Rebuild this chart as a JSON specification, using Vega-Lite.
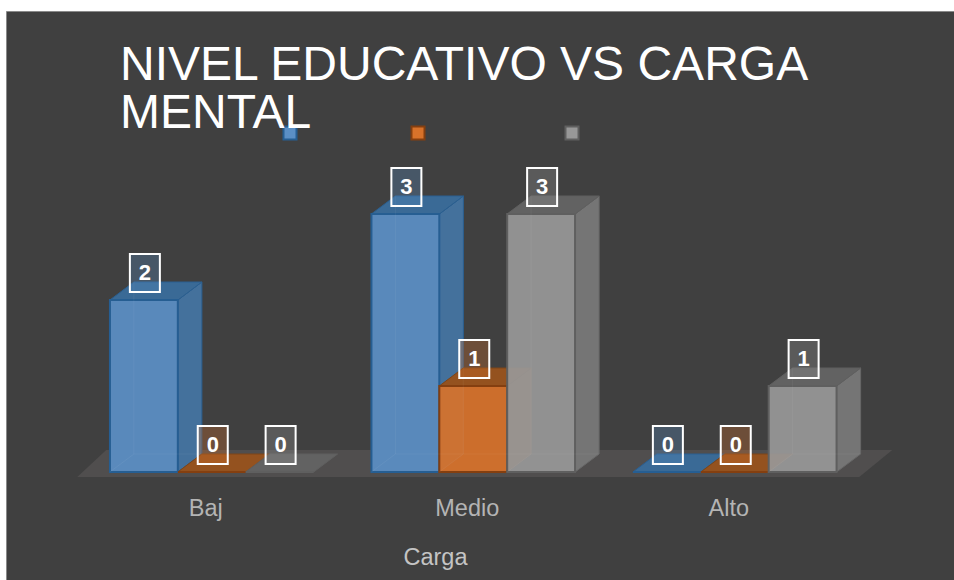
{
  "$schema": "https://vega.github.io/schema/vega-lite/v6.json",
  "width": 948,
  "height": 569,
  "autosize": "none",
  "padding": {"left": 6, "top": 11, "right": 0, "bottom": 0},
  "background": "#ffffff",
  "view": {"fill": "#404040", "stroke": "#8a8a8a", "strokeWidth": 1},
  "title": {
    "text": ["NIVEL EDUCATIVO VS CARGA", "MENTAL"],
    "frame": "group",
    "anchor": "start",
    "align": "left",
    "baseline": "top",
    "dx": 114,
    "offset": -127,
    "font": "Liberation Sans",
    "fontSize": 48,
    "fontWeight": "normal",
    "lineHeight": 48,
    "color": "#ffffff"
  },
  "config": {"font": "Liberation Sans"},
  "data": {
    "values": [
      {"carga": "Baj", "nivel": "Bachiller", "valor": 2},
      {"carga": "Baj", "nivel": "Universitario", "valor": 0},
      {"carga": "Baj", "nivel": "Posgrado", "valor": 0},
      {"carga": "Medio", "nivel": "Bachiller", "valor": 3},
      {"carga": "Medio", "nivel": "Universitario", "valor": 1},
      {"carga": "Medio", "nivel": "Posgrado", "valor": 3},
      {"carga": "Alto", "nivel": "Bachiller", "valor": 0},
      {"carga": "Alto", "nivel": "Universitario", "valor": 0},
      {"carga": "Alto", "nivel": "Posgrado", "valor": 1}
    ]
  },
  "encoding": {
    "x": {
      "field": "carga",
      "type": "nominal",
      "sort": ["Baj", "Medio", "Alto"],
      "scale": {"range": [75, 859.5], "paddingInner": 0.2214, "paddingOuter": 0.1107},
      "axis": {
        "title": "Carga",
        "titleFont": "Liberation Sans",
        "titleFontSize": 23.5,
        "titleFontWeight": "normal",
        "titleColor": "#c4c4c4",
        "titleX": 429,
        "titleY": 49,
        "titleAlign": "center",
        "labelAngle": 0,
        "labelColor": "#b4b4b4",
        "labelFont": "Liberation Sans",
        "labelFontSize": 23.5,
        "labelOffset": -6,
        "labelPadding": 0,
        "domain": false,
        "ticks": false,
        "offset": -84
      }
    },
    "xOffset": {
      "field": "nivel",
      "type": "nominal",
      "scale": {"domain": ["Bachiller", "Universitario", "Posgrado"]}
    },
    "y": {
      "field": "valor",
      "type": "quantitative",
      "scale": {"domain": [0, 3], "range": [461, 203], "nice": false},
      "axis": null
    }
  },
  "layer": [
    {
      "transform": [{"filter": "datum.carga === 'Medio' && datum.nivel === 'Universitario'"}],
      "mark": {
        "type": "point",
        "filled": true,
        "opacity": 1,
        "size": 4,
        "strokeWidth": 0,
        "shape": "M-396,5L386,5L419,-22L-367,-22Z"
      },
      "encoding": {
        "y": {"datum": 0},
        "fill": {"value": "#504e4e"}
      }
    },
    {
      "mark": {"type": "point", "filled": true, "opacity": 1, "size": 4, "strokeWidth": 1},
      "encoding": {
        "shape": {
          "field": "valor",
          "type": "nominal",
          "legend": null,
          "scale": {
            "domain": [0, 1, 2, 3],
            "range": [
              "M34,0L34,0Z",
              "M34,0L58,-18L58,68L34,86Z",
              "M34,0L58,-18L58,154L34,172Z",
              "M34,0L58,-18L58,240L34,258Z"
            ]
          }
        },
        "fill": {
          "field": "nivel",
          "type": "nominal",
          "legend": null,
          "scale": {
            "domain": ["Bachiller", "Universitario", "Posgrado"],
            "range": ["#44719c", "#9a5a2a", "#757575"]
          }
        },
        "stroke": {
          "field": "nivel",
          "type": "nominal",
          "legend": null,
          "scale": {
            "domain": ["Bachiller", "Universitario", "Posgrado"],
            "range": ["#2a5f90", "#7d4518", "#686868"]
          }
        }
      }
    },
    {
      "mark": {
        "type": "point",
        "filled": true,
        "opacity": 1,
        "size": 4,
        "strokeWidth": 1,
        "shape": "M-34,0L-10,-18L58,-18L34,0Z"
      },
      "encoding": {
        "fill": {
          "field": "nivel",
          "type": "nominal",
          "legend": null,
          "scale": {
            "domain": ["Bachiller", "Universitario", "Posgrado"],
            "range": ["#3a6a96", "#94521f", "#626262"]
          }
        },
        "stroke": {
          "field": "nivel",
          "type": "nominal",
          "legend": null,
          "scale": {
            "domain": ["Bachiller", "Universitario", "Posgrado"],
            "range": ["#2a5f90", "#7d4518", "#5f5f5f"]
          }
        }
      }
    },
    {
      "mark": {"type": "bar", "strokeWidth": 2, "fillOpacity": 0.92},
      "encoding": {
        "y2": {"datum": 0},
        "fill": {
          "field": "nivel",
          "type": "nominal",
          "scale": {
            "domain": ["Bachiller", "Universitario", "Posgrado"],
            "range": ["#5b8fc5", "#d8722a", "#989898"]
          },
          "legend": {
            "orient": "none",
            "direction": "horizontal",
            "legendX": 276,
            "legendY": 114,
            "title": null,
            "padding": 0,
            "symbolType": "square",
            "symbolSize": 170,
            "symbolStrokeWidth": 2,
            "symbolOpacity": 1,
            "labelColor": "#404040",
            "labelFontSize": 15.2,
            "columnPadding": 46,
            "gridAlign": "none"
          }
        },
        "stroke": {
          "field": "nivel",
          "type": "nominal",
          "scale": {
            "domain": ["Bachiller", "Universitario", "Posgrado"],
            "range": ["#265e92", "#843f10", "#5f5f5f"]
          }
        }
      }
    },
    {
      "mark": {
        "type": "point",
        "filled": false,
        "opacity": 1,
        "size": 4,
        "strokeWidth": 1,
        "color": "#ffffff",
        "strokeOpacity": 0.05
      },
      "transform": [{"filter": "datum.valor > 0"}],
      "encoding": {
        "shape": {
          "field": "valor",
          "type": "nominal",
          "legend": null,
          "scale": {
            "domain": [1, 2, 3],
            "range": [
              "M-10,-18L-10,68M-34,86L-10,68L58,68",
              "M-10,-18L-10,154M-34,172L-10,154L58,154",
              "M-10,-18L-10,240M-34,258L-10,240L58,240"
            ]
          }
        }
      }
    },
    {
      "mark": {
        "type": "point",
        "filled": true,
        "opacity": 1,
        "size": 4,
        "fillOpacity": 0.3,
        "stroke": "#ffffff",
        "strokeOpacity": 1,
        "strokeWidth": 2,
        "shape": "M-14,-46L16,-46L16,-8L-14,-8Z"
      },
      "encoding": {
        "fill": {
          "field": "nivel",
          "type": "nominal",
          "legend": null,
          "scale": {
            "domain": ["Bachiller", "Universitario", "Posgrado"],
            "range": ["#5b8fc5", "#d8722a", "#989898"]
          }
        }
      }
    },
    {
      "mark": {
        "type": "text",
        "font": "Liberation Sans",
        "fontSize": 22,
        "fontWeight": "bold",
        "color": "#ffffff",
        "dx": 1,
        "dy": -27,
        "baseline": "middle"
      },
      "encoding": {"text": {"field": "valor", "type": "quantitative"}}
    }
  ],
  "resolve": {"scale": {"fill": "independent", "stroke": "independent", "shape": "independent"}}
}
